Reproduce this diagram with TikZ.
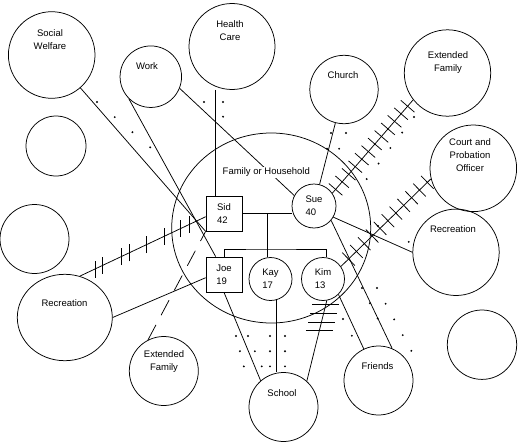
\documentclass[tikz,border=0pt]{standalone}
\usepackage{fontspec}
\setmainfont{Liberation Sans}
\usetikzlibrary{shapes.geometric,decorations.markings}

\newcommand{\vtick}{\pgftransformresetnontranslations\draw (0pt,-8.5pt) -- (0pt,8.5pt);}
\newcommand{\htick}{\pgftransformresetnontranslations\draw (-13.5pt,0pt) -- (13.5pt,0pt);}

\tikzset{
  ring/.style={draw,circle,inner sep=0pt},
  person/.style={draw,circle,inner sep=0pt,minimum size=43pt,align=left},
  male/.style={draw,rectangle,inner sep=0pt,minimum width=36pt,minimum height=35pt,align=left},
  lbl/.style={align=center,inner sep=0pt},
  tenuous/.style={line width=2.1pt,line cap=round,dash pattern=on 0pt off #1},
  stress/.style={postaction={decorate,decoration={markings,
      mark=between positions 5pt and -8pt step #1 with {\draw (0pt,-9pt) -- (0pt,9pt);}}}},
  weak/.style={dash pattern=on 17pt off 11pt}
}

\begin{document}
\begin{tikzpicture}[x=1pt,y=-1pt,line width=0.75pt,font=\fontsize{9.5}{13}\selectfont]
    \useasboundingbox (0,0) rectangle (521,444);

    % Family or household
    \node[draw,ellipse,inner sep=0pt,minimum width=199pt,minimum height=190pt] (home) at (271.2,228) {};
    \node[male] (sid) at (224,213.5) {Sid\\42};
    \node[ring,minimum size=44pt,align=left] (sue) at (314,206) {Sue\\40};
    \node[male] (joe) at (224,274.5) {Joe\\19};
    \node[person] (kay) at (270.5,279) {Kay\\17};
    \node[person] (kim) at (323,279) {Kim\\13};

    % Outside systems
    \node[ring,minimum size=86.6pt] (welfare) at (51.7,55) {};
    \node[ring,minimum size=86pt] (health) at (232,46.5) {};
    \node[ring,minimum size=61.5pt] (work) at (150.8,76.7) {};
    \node[ring,minimum size=68.4pt] (church) at (344,89.5) {};
    \node[ring,minimum size=86.4pt] (famtop) at (447.5,73) {};
    \node[ring,minimum size=86.6pt] (court) at (473.3,168.3) {};
    \node[ring,minimum size=86.4pt] (recright) at (456,252.3) {};
    \node[ring,minimum size=69pt] (friends) at (378.5,380.5) {};
    \node[ring,minimum size=69pt] (school) at (283.5,407) {};
    \node[ring,minimum size=69pt] (fambot) at (163.8,371) {};
    \node[draw,ellipse,inner sep=0pt,minimum width=95pt,minimum height=86.4pt] (recleft) at (64.8,317.5) {};
    \node[ring,minimum size=60pt] (blank1) at (56,146) {};
    \node[ring,minimum size=69pt] (blank2) at (34.5,239) {};
    \node[ring,minimum size=69.4pt] (blank3) at (482,344.7) {};

    \node[lbl] (welfare-txt) at (50,40) {Social\\Welfare};
    \node[lbl] (health-txt) at (230,31) {Health\\Care};
    \node[lbl] (work-txt) at (147,66) {Work};
    \node[lbl] (church-txt) at (343,75) {Church};
    \node[lbl] (famtop-txt) at (448,62.3) {Extended\\Family};
    \node[lbl] (court-txt) at (470,155) {Court and\\Probation\\Officer};
    \node[lbl] (recright-txt) at (453,229) {Recreation};
    \node[lbl] (friends-txt) at (377.5,366) {Friends};
    \node[lbl] (school-txt) at (282,393) {School};
    \node[lbl] (fambot-txt) at (164,361.3) {Extended\\Family};
    \node[lbl] (recleft-txt) at (64.5,303) {Recreation};

    % Family lines
    \coordinate (bar) at (267,249);
    \draw (sid.east) -- (sid.east -| sue.west);
    \draw (bar |- sid.east) -- (bar |- kay.north);
    \draw (joe.north) |- (bar) -| (kim.80);

    % Strong ties
    \draw (welfare) -- (sid.south west);
    \draw (work.-135) -- (joe.115);
    \draw (work.-22) -- (sue.152);
    \draw (sid.117 |- health.south) -- (sid.117);
    \draw (church) -- (sue);
    \draw (sue.-30) -- (recright.west);
    \draw (sue.-40) -- (friends.67);
    \draw (kim.-45) -- (friends.115);
    \draw (kay.-75) -- (kay.-75 |- school.north);
    \draw (joe.south) -- (school.131);
    \draw (recleft.east) -- (joe.190);

    % Stressful ties
    \draw[stress=10pt] (sue.35) -- (famtop.-142);
    \draw[stress=11pt] (court.194) -- (kim.35);
    \draw[postaction={decorate,decoration={markings,
        mark=at position 0.12 with {\vtick},
        mark=at position 0.18 with {\vtick},
        mark=at position 0.33 with {\vtick},
        mark=at position 0.39 with {\vtick},
        mark=at position 0.53 with {\vtick},
        mark=at position 0.67 with {\vtick},
        mark=at position 0.80 with {\vtick},
        mark=at position 0.87 with {\vtick}}}] (recleft.70) -- (sid.190);
    \draw[postaction={decorate,decoration={markings,
        mark=between positions 4pt and 32pt step 9pt with {\htick}}}] (kim.-80) -- (school.48);

    % Weak tie
    \draw[weak] (fambot.117) -- (sid.south west);

    % Tenuous ties
    \coordinate (wd1) at (97,102);   \coordinate (wd2) at (151,148);
    \coordinate (hd1) at (204,102);  \coordinate (hd2) at (204,103);
    \coordinate (hd3) at (223,102);  \coordinate (hd4) at (223,117);
    \coordinate (cd1) at (331,133);  \coordinate (cd2) at (327,149);
    \coordinate (cd3) at (346,133);  \coordinate (cd4) at (339,149);
    \coordinate (ed1) at (414,117);  \coordinate (ed2) at (366,180);
    \coordinate (rd1) at (378,226);  \coordinate (rd2) at (409,242);
    \coordinate (fd1) at (362,288);  \coordinate (fd2) at (378,319);
    \coordinate (fd3) at (377,288);  \coordinate (fd4) at (412,352);
    \coordinate (kd1) at (343,319);  \coordinate (kd2) at (352,336);
    \coordinate (sd1) at (236,336);  \coordinate (sd2) at (244,367);
    \coordinate (sd3) at (248,336);  \coordinate (sd4) at (262,367);
    \coordinate (sd5) at (270,336);  \coordinate (sd6) at (270,367);
    \coordinate (sd7) at (285,336);  \coordinate (sd8) at (285,367);
    \draw[tenuous=23.3pt] (wd1) -- (wd2);
    \draw[tenuous=20pt] (hd1) -- (hd2);
    \draw[tenuous=14.7pt] (hd3) -- (hd4);
    \draw[tenuous=16.2pt] (cd1) -- (cd2);
    \draw[tenuous=17.2pt] (cd3) -- (cd4);
    \draw[tenuous=19.5pt] (ed1) -- (ed2);
    \draw[tenuous=34.6pt] (rd1) -- (rd2);
    \draw[tenuous=17.1pt] (fd1) -- (fd2);
    \draw[tenuous=17.9pt] (fd3) -- (fd4);
    \draw[tenuous=18.9pt] (kd1) -- (kd2);
    \draw[tenuous=15.7pt] (sd1) -- (sd2);
    \draw[tenuous=16.7pt] (sd3) -- (sd4);
    \draw[tenuous=15.2pt] (sd5) -- (sd6);
    \draw[tenuous=15.2pt] (sd7) -- (sd8);

    \node[lbl,fill=white,inner sep=1pt] (home-txt) at (266.3,172.3) {Family or Household};
\end{tikzpicture}
\end{document}
